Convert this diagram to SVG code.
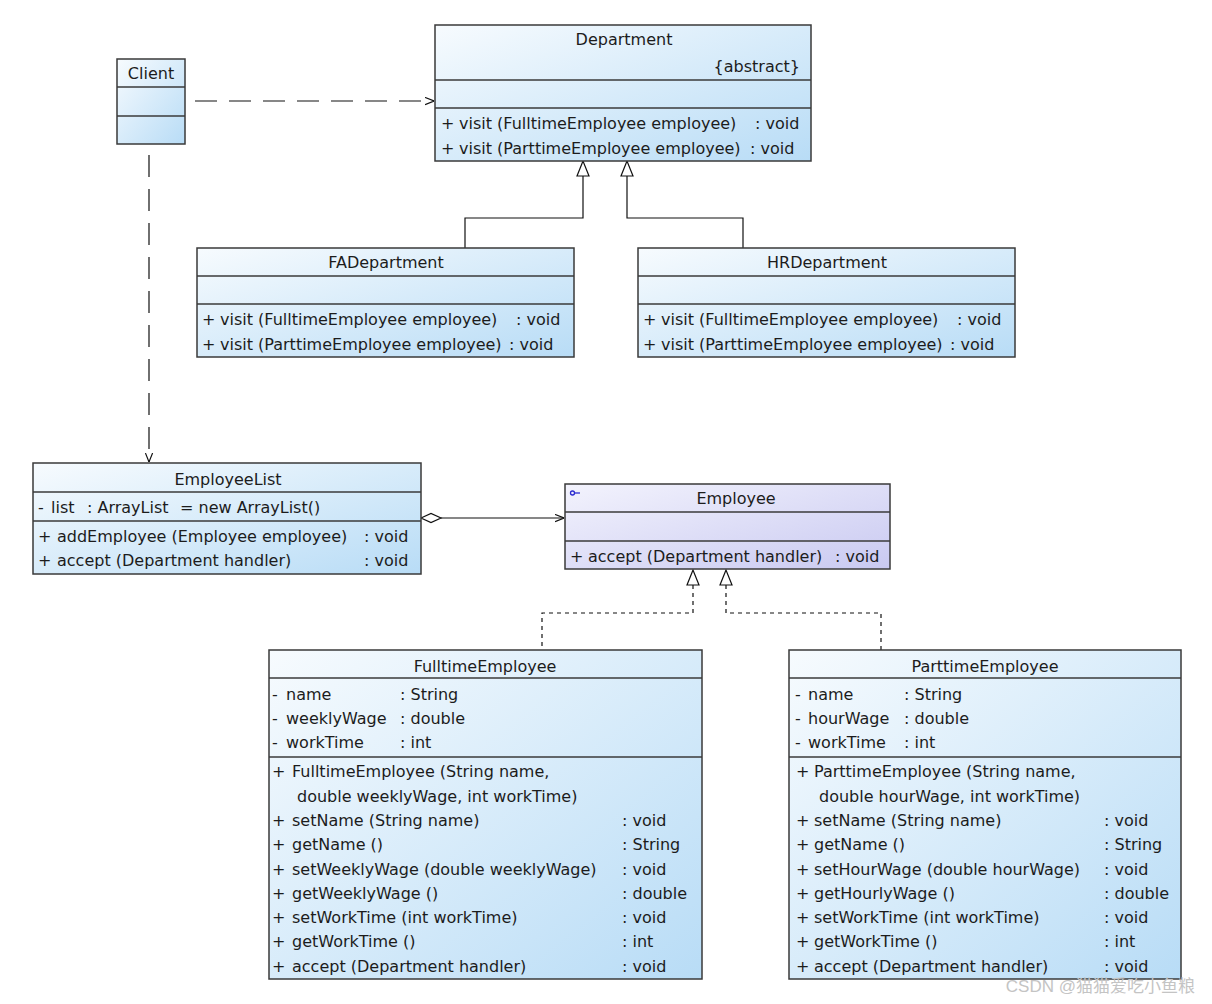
<svg xmlns="http://www.w3.org/2000/svg" width="1212" height="1004" viewBox="0 0 1212 1004">
<style>
  text { font-family: "DejaVu Sans", "Liberation Sans", sans-serif; font-size: 16px; fill: #1c1c1c; }
  .c { text-anchor: middle; }
  .box { fill: url(#blue); stroke: #3a3a3a; stroke-width: 1.5; }
  .boxp { fill: url(#lav); stroke: #3a3a3a; stroke-width: 1.5; }
  .sep { stroke: #3a3a3a; stroke-width: 1.5; }
  .ln { fill: none; stroke: #111; stroke-width: 1.2; }
  .dep { fill: none; stroke: #111; stroke-width: 1.2; stroke-dasharray: 22 12; }
  .real { fill: none; stroke: #111; stroke-width: 1.2; stroke-dasharray: 4 4; }
  .tri { fill: #fff; stroke: #111; stroke-width: 1.2; }
  .wm { font-family: "Liberation Sans", "Noto Sans CJK SC", sans-serif; font-size: 17px; fill: #c4c4c4; }
</style>
<defs>
  <linearGradient id="blue" x1="0" y1="0" x2="1" y2="1">
    <stop offset="0" stop-color="#f7fbfe"/>
    <stop offset="1" stop-color="#b8dcf6"/>
  </linearGradient>
  <linearGradient id="lav" x1="0" y1="0" x2="1" y2="1">
    <stop offset="0" stop-color="#f3f3fd"/>
    <stop offset="1" stop-color="#c9c9f1"/>
  </linearGradient>
  <marker id="open" viewBox="0 0 10 10" refX="10" refY="5" markerWidth="9" markerHeight="9" markerUnits="userSpaceOnUse" orient="auto">
    <path d="M0,1 L10,5 L0,9" fill="none" stroke="#111" stroke-width="1.3"/>
  </marker>
</defs>
<rect width="1212" height="1004" fill="#fff"/>

<g id="connectors">
  <line class="dep" x1="195" y1="101" x2="434" y2="101" marker-end="url(#open)"/>
  <line class="dep" x1="149" y1="155" x2="149" y2="462" marker-end="url(#open)"/>
  <polyline class="ln" points="583,176 583,218 465,218 465,248"/>
  <polygon class="tri" points="583,161 577,176 589,176"/>
  <polyline class="ln" points="627,176 627,218 743,218 743,248"/>
  <polygon class="tri" points="627,161 621,176 633,176"/>
  <line class="ln" x1="441" y1="518" x2="564" y2="518" marker-end="url(#open)"/>
  <polygon class="tri" points="421,518 431,513.5 441,518 431,522.5"/>
  <polyline class="real" points="693,585 693,613 542,613 542,650"/>
  <polygon class="tri" points="693,570 687,585 699,585"/>
  <polyline class="real" points="726,585 726,613 881,613 881,650"/>
  <polygon class="tri" points="726,570 720,585 732,585"/>
</g>

<g id="client">
  <rect class="box" x="117" y="59" width="68" height="85"/>
  <line class="sep" x1="117" y1="87" x2="185" y2="87"/>
  <line class="sep" x1="117" y1="116" x2="185" y2="116"/>
  <text class="c" x="151" y="79">Client</text>
</g>

<g id="department">
  <rect class="box" x="435" y="25" width="376" height="136"/>
  <line class="sep" x1="435" y1="80" x2="811" y2="80"/>
  <line class="sep" x1="435" y1="108" x2="811" y2="108"/>
  <text class="c" x="624" y="45">Department</text>
  <text x="800" y="72" text-anchor="end">{abstract}</text>
  <text y="129"><tspan x="441">+</tspan><tspan x="459">visit (FulltimeEmployee employee)</tspan><tspan x="755">: void</tspan></text>
  <text y="154"><tspan x="441">+</tspan><tspan x="459">visit (ParttimeEmployee employee)</tspan><tspan x="750">: void</tspan></text>
</g>

<g id="fadepartment">
  <rect class="box" x="197" y="248" width="377" height="109"/>
  <line class="sep" x1="197" y1="276" x2="574" y2="276"/>
  <line class="sep" x1="197" y1="304" x2="574" y2="304"/>
  <text class="c" x="386" y="268">FADepartment</text>
  <text y="325"><tspan x="202">+</tspan><tspan x="220">visit (FulltimeEmployee employee)</tspan><tspan x="516">: void</tspan></text>
  <text y="350"><tspan x="202">+</tspan><tspan x="220">visit (ParttimeEmployee employee)</tspan><tspan x="509">: void</tspan></text>
</g>

<g id="hrdepartment">
  <rect class="box" x="638" y="248" width="377" height="109"/>
  <line class="sep" x1="638" y1="276" x2="1015" y2="276"/>
  <line class="sep" x1="638" y1="304" x2="1015" y2="304"/>
  <text class="c" x="827" y="268">HRDepartment</text>
  <text y="325"><tspan x="643">+</tspan><tspan x="661">visit (FulltimeEmployee employee)</tspan><tspan x="957">: void</tspan></text>
  <text y="350"><tspan x="643">+</tspan><tspan x="661">visit (ParttimeEmployee employee)</tspan><tspan x="950">: void</tspan></text>
</g>

<g id="employeelist">
  <rect class="box" x="33" y="463" width="388" height="111"/>
  <line class="sep" x1="33" y1="492" x2="421" y2="492"/>
  <line class="sep" x1="33" y1="521" x2="421" y2="521"/>
  <text class="c" x="228" y="485">EmployeeList</text>
  <text y="513"><tspan x="38">-</tspan><tspan x="51">list</tspan><tspan x="87">: ArrayList</tspan><tspan x="180">= new ArrayList()</tspan></text>
  <text y="542"><tspan x="38">+</tspan><tspan x="57">addEmployee (Employee employee)</tspan><tspan x="364">: void</tspan></text>
  <text y="566"><tspan x="38">+</tspan><tspan x="57">accept (Department handler)</tspan><tspan x="364">: void</tspan></text>
</g>

<g id="employee">
  <rect class="boxp" x="565" y="484" width="325" height="85"/>
  <line class="sep" x1="565" y1="512" x2="890" y2="512"/>
  <line class="sep" x1="565" y1="541" x2="890" y2="541"/>
  <circle cx="572.5" cy="493" r="2" fill="none" stroke="#2a2ad0" stroke-width="1.3"/>
  <line x1="574.5" y1="493" x2="580" y2="493" stroke="#2a2ad0" stroke-width="1.3"/>
  <text class="c" x="736" y="504">Employee</text>
  <text y="562"><tspan x="570">+</tspan><tspan x="588">accept (Department handler)</tspan><tspan x="835">: void</tspan></text>
</g>

<g id="fulltimeemployee">
  <rect class="box" x="269" y="650" width="433" height="329"/>
  <line class="sep" x1="269" y1="678" x2="702" y2="678"/>
  <line class="sep" x1="269" y1="757" x2="702" y2="757"/>
  <text class="c" x="485" y="672">FulltimeEmployee</text>
  <text y="700"><tspan x="272">-</tspan><tspan x="286">name</tspan><tspan x="400">: String</tspan></text>
  <text y="724"><tspan x="272">-</tspan><tspan x="286">weeklyWage</tspan><tspan x="400">: double</tspan></text>
  <text y="748"><tspan x="272">-</tspan><tspan x="286">workTime</tspan><tspan x="400">: int</tspan></text>
  <text y="777"><tspan x="272">+</tspan><tspan x="292">FulltimeEmployee (String name,</tspan></text>
  <text x="297" y="802">double weeklyWage, int workTime)</text>
  <text y="826"><tspan x="272">+</tspan><tspan x="292">setName (String name)</tspan><tspan x="622">: void</tspan></text>
  <text y="850"><tspan x="272">+</tspan><tspan x="292">getName ()</tspan><tspan x="622">: String</tspan></text>
  <text y="875"><tspan x="272">+</tspan><tspan x="292">setWeeklyWage (double weeklyWage)</tspan><tspan x="622">: void</tspan></text>
  <text y="899"><tspan x="272">+</tspan><tspan x="292">getWeeklyWage ()</tspan><tspan x="622">: double</tspan></text>
  <text y="923"><tspan x="272">+</tspan><tspan x="292">setWorkTime (int workTime)</tspan><tspan x="622">: void</tspan></text>
  <text y="947"><tspan x="272">+</tspan><tspan x="292">getWorkTime ()</tspan><tspan x="622">: int</tspan></text>
  <text y="972"><tspan x="272">+</tspan><tspan x="292">accept (Department handler)</tspan><tspan x="622">: void</tspan></text>
</g>

<g id="parttimeemployee">
  <rect class="box" x="789" y="650" width="392" height="329"/>
  <line class="sep" x1="789" y1="678" x2="1181" y2="678"/>
  <line class="sep" x1="789" y1="757" x2="1181" y2="757"/>
  <text class="c" x="985" y="672">ParttimeEmployee</text>
  <text y="700"><tspan x="795">-</tspan><tspan x="808">name</tspan><tspan x="904">: String</tspan></text>
  <text y="724"><tspan x="795">-</tspan><tspan x="808">hourWage</tspan><tspan x="904">: double</tspan></text>
  <text y="748"><tspan x="795">-</tspan><tspan x="808">workTime</tspan><tspan x="904">: int</tspan></text>
  <text y="777"><tspan x="796">+</tspan><tspan x="814">ParttimeEmployee (String name,</tspan></text>
  <text x="819" y="802">double hourWage, int workTime)</text>
  <text y="826"><tspan x="796">+</tspan><tspan x="814">setName (String name)</tspan><tspan x="1104">: void</tspan></text>
  <text y="850"><tspan x="796">+</tspan><tspan x="814">getName ()</tspan><tspan x="1104">: String</tspan></text>
  <text y="875"><tspan x="796">+</tspan><tspan x="814">setHourWage (double hourWage)</tspan><tspan x="1104">: void</tspan></text>
  <text y="899"><tspan x="796">+</tspan><tspan x="814">getHourlyWage ()</tspan><tspan x="1104">: double</tspan></text>
  <text y="923"><tspan x="796">+</tspan><tspan x="814">setWorkTime (int workTime)</tspan><tspan x="1104">: void</tspan></text>
  <text y="947"><tspan x="796">+</tspan><tspan x="814">getWorkTime ()</tspan><tspan x="1104">: int</tspan></text>
  <text y="972"><tspan x="796">+</tspan><tspan x="814">accept (Department handler)</tspan><tspan x="1104">: void</tspan></text>
</g>

<text class="wm" x="1195" y="992" text-anchor="end">CSDN @猫猫爱吃小鱼粮</text>
</svg>
